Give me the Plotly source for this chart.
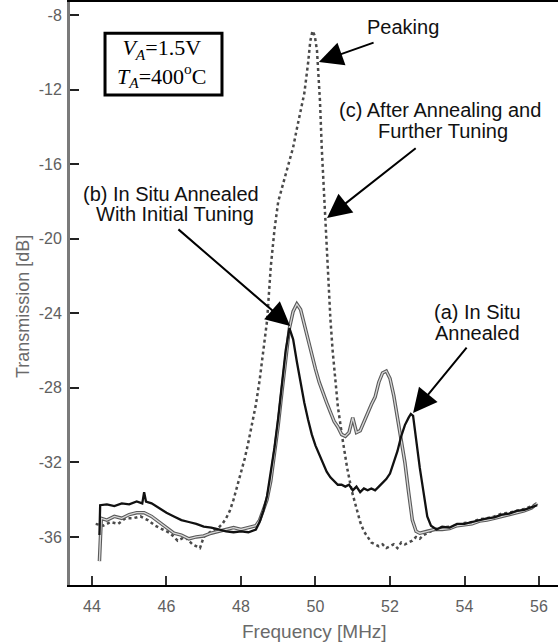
import plotly.graph_objects as go

# ---- data ----
freq_a = [44.2, 44.22, 44.4, 44.6, 44.8, 45.0, 45.2, 45.35, 45.4, 45.45, 45.6, 45.8, 46.0, 46.2, 46.4,
          46.6, 46.8, 47.0, 47.2, 47.4, 47.6, 47.8, 48.0, 48.2, 48.4, 48.5, 48.6, 48.7, 48.8, 48.9,
          49.0, 49.1, 49.2, 49.3, 49.4, 49.5, 49.6, 49.7, 49.8, 49.9, 50.0, 50.1, 50.2, 50.3, 50.4,
          50.5, 50.6, 50.7, 50.8, 50.9, 51.0, 51.1, 51.2, 51.3, 51.4, 51.5, 51.6, 51.7, 51.8, 51.9,
          52.0, 52.1, 52.2, 52.3, 52.4, 52.5, 52.56, 52.62, 52.7, 52.8, 52.9, 53.0, 53.1, 53.25,
          53.4, 53.6, 53.8, 54.0, 54.2, 54.4, 54.6, 54.8, 55.0, 55.2, 55.4, 55.6, 55.8, 55.95]
trans_a = [-35.9, -34.3, -34.25, -34.35, -34.2, -34.25, -34.1, -34.2, -33.6, -34.1, -34.2, -34.45, -34.7, -34.9, -35.1,
           -35.2, -35.3, -35.45, -35.5, -35.6, -35.7, -35.75, -35.7, -35.75, -35.6, -35.2, -34.6, -33.8, -32.6, -31.2,
           -29.6, -27.8, -26.0, -24.8, -25.4, -26.6, -27.8, -28.8, -29.7, -30.5, -31.1, -31.6, -32.1, -32.5, -32.8,
           -33.0, -33.2, -33.2, -33.3, -33.2, -33.5, -33.3, -33.6, -33.4, -33.5, -33.4, -33.5, -33.3, -33.1, -32.9,
           -32.6, -32.0, -31.4, -30.6, -30.0, -29.6, -29.4, -29.5, -30.8, -32.3, -33.6, -34.9, -35.4, -35.6,
           -35.45, -35.5, -35.3, -35.3, -35.2, -35.1, -35.0, -34.95, -34.8, -34.75, -34.6, -34.55, -34.4, -34.3]

freq_b = [44.2, 44.25, 44.4, 44.6, 44.8, 45.0, 45.2, 45.4, 45.6, 45.8, 46.0, 46.2, 46.4, 46.6, 46.8,
          47.0, 47.2, 47.4, 47.6, 47.8, 48.0, 48.2, 48.4, 48.5, 48.6, 48.7, 48.8, 48.9, 49.0, 49.1,
          49.2, 49.3, 49.4, 49.5, 49.6, 49.7, 49.8, 49.9, 50.0, 50.1, 50.2, 50.3, 50.4, 50.5, 50.6,
          50.7, 50.8, 50.9, 51.0, 51.1, 51.2, 51.3, 51.4, 51.5, 51.6, 51.7, 51.8, 51.9, 52.0, 52.1,
          52.2, 52.3, 52.4, 52.5, 52.6, 52.7, 52.8, 53.0, 53.2, 53.4, 53.6, 53.8, 54.0, 54.2, 54.4,
          54.6, 54.8, 55.0, 55.2, 55.4, 55.6, 55.8, 55.95]
trans_b = [-37.3, -35.0, -35.1, -34.9, -35.0, -34.8, -34.7, -34.7, -34.9, -35.2, -35.5, -35.8, -35.9, -36.1, -36.0,
           -35.95, -35.8, -35.7, -35.6, -35.5, -35.6, -35.5, -35.4, -35.1, -34.6, -34.0, -33.0, -31.6, -30.0, -28.2,
           -26.4, -24.8, -23.9, -23.5, -23.8, -24.6, -25.5, -26.3, -27.0, -27.7, -28.3, -28.8, -29.3, -29.8, -30.1,
           -30.5, -30.6, -30.4, -29.6, -30.4, -30.3, -29.8, -29.3, -28.9, -28.5, -27.7, -27.2, -27.1, -27.5, -28.4,
           -29.6, -30.8, -32.0, -33.6, -35.1, -35.7, -35.8, -35.7, -35.6, -35.6, -35.55, -35.4, -35.35, -35.3, -35.15,
           -35.1, -35.0, -34.9, -34.8, -34.7, -34.6, -34.45, -34.2]

freq_c = [44.1, 44.3, 44.5, 44.7, 44.9, 45.1, 45.3, 45.5, 45.7, 45.9, 46.1, 46.3, 46.5, 46.7, 46.9,
          47.0, 47.2, 47.4, 47.5, 47.6, 47.7, 47.8, 47.9, 48.0, 48.1, 48.2, 48.3, 48.4, 48.5, 48.6,
          48.7, 48.8, 48.9, 49.0, 49.1, 49.2, 49.3, 49.4, 49.5, 49.6, 49.7, 49.8, 49.86, 49.92, 49.98,
          50.04, 50.12, 50.17, 50.25, 50.33, 50.4, 50.46, 50.53, 50.6, 50.73, 50.85, 50.97, 51.1, 51.2, 51.3,
          51.4, 51.5, 51.6, 51.7, 51.8, 51.9, 52.0, 52.1, 52.2, 52.3, 52.4, 52.5, 52.6, 52.7, 52.8,
          52.9, 53.0, 53.2, 53.4, 53.6, 53.8, 54.0, 54.2, 54.4, 54.6, 54.8, 55.0, 55.2, 55.4, 55.6,
          55.8, 55.95]
trans_c = [-35.3, -35.4, -35.2, -35.3, -35.0, -35.0, -34.9, -35.1, -35.4, -35.6, -35.8, -36.2, -36.0, -36.4, -36.6,
           -36.0, -35.7, -35.5, -35.3, -35.0, -34.6, -34.0, -33.3, -32.6, -31.8, -30.9, -29.9, -28.9, -27.6, -25.9,
           -24.4, -21.5, -19.5, -18.0, -17.3, -16.5, -15.8, -15.1, -14.1, -13.2, -12.2, -10.6, -9.4, -8.85, -9.1,
           -9.9, -12.6, -15.2, -18.3, -22.0, -24.3, -26.0, -27.6, -29.0, -30.8, -32.3, -33.5, -34.5, -35.2, -35.7,
           -36.0, -36.3, -36.4, -36.5, -36.4, -36.6, -36.5, -36.4, -36.6, -36.3, -36.4, -36.3, -36.2, -36.0, -36.1,
           -35.9, -35.8, -35.6, -35.5, -35.45, -35.4, -35.25, -35.2, -35.05, -35.0, -34.9, -34.75, -34.7, -34.6, -34.5,
           -34.35, -34.2]

x_ticks = [44, 46, 48, 50, 52, 54, 56]
y_ticks = [-8, -12, -16, -20, -24, -28, -32, -36]
y_tick_text = ["-8", "-12", "-16", "-20", "-24", "-28", "-32", "-36"]

sans = "Liberation Sans, Arial, Helvetica, sans-serif"
serif = "Liberation Serif, Times New Roman, serif"

fig = go.Figure()
# (c) dotted
fig.add_trace(go.Scatter(x=freq_c, y=trans_c, mode="lines",
                         line=dict(color="#4a4a4a", width=2.5, dash="dot"), showlegend=False))
# (b) grey hollow-looking line
fig.add_trace(go.Scatter(x=freq_b, y=trans_b, mode="lines",
                         line=dict(color="#5a5a5a", width=3.5), showlegend=False))
fig.add_trace(go.Scatter(x=freq_b, y=trans_b, mode="lines",
                         line=dict(color="#d8d8d8", width=1.3), showlegend=False))
# (a) solid black
fig.add_trace(go.Scatter(x=freq_a, y=trans_a, mode="lines",
                         line=dict(color="#111111", width=2.3), showlegend=False))

annos = []
def label(text, x, y):
    annos.append(dict(text=text, x=x, y=y, xref="x", yref="y", showarrow=False,
                      font=dict(family=sans, size=20, color="#111"), xanchor="center", yanchor="middle"))

def arrow(tail_x, tail_y, tip_x, tip_y):
    annos.append(dict(text="", x=tip_x, y=tip_y, ax=tail_x, ay=tail_y, xref="x", yref="y",
                      axref="x", ayref="y", showarrow=True, arrowhead=2, arrowsize=2.4,
                      arrowwidth=2, arrowcolor="#000"))

label("Peaking", 52.35, -8.64)
label("(c) After Annealing and", 53.34, -13.10)
label("Further Tuning", 53.42, -14.22)
label("(b) In Situ Annealed", 46.12, -17.60)
label("With Initial Tuning", 46.23, -18.68)
label("(a) In Situ", 54.34, -23.93)
label("Annealed", 54.36, -25.06)

arrow(51.60, -9.45, 50.09, -10.52)
arrow(52.73, -15.08, 50.31, -18.89)
arrow(46.28, -19.43, 49.32, -24.68)
arrow(54.09, -25.76, 52.62, -29.35)

annos.append(dict(text="<i>V<sub>A</sub></i>=1.5V<br><i>T<sub>A</sub></i>=400<sup>o</sup>C",
                  x=45.87, y=-10.55, xref="x", yref="y", xanchor="center", yanchor="middle",
                  showarrow=False, font=dict(family=serif, size=22, color="#000")))

annos.append(dict(text="Transmission [dB]", x=-0.096, y=0.477, xref="paper", yref="paper",
                  xanchor="center", yanchor="middle",
                  textangle=-90, showarrow=False, font=dict(family=sans, size=18, color="#6a6a6a")))
annos.append(dict(text="Frequency [MHz]", x=0.5, y=-0.079, xref="paper", yref="paper",
                  xanchor="center", yanchor="middle",
                  showarrow=False, font=dict(family=sans, size=19, color="#6a6a6a")))

fig.update_layout(
    width=558, height=644,
    margin=dict(l=70, r=0, t=2, b=59),
    paper_bgcolor="white", plot_bgcolor="white",
    annotations=annos,
    shapes=[dict(type="rect", xref="x", yref="y", x0=44.35, x1=47.49, y0=-12.29, y1=-8.97,
                 line=dict(color="#000", width=3))],
    xaxis=dict(range=[43.41, 56.51], tickvals=x_ticks, ticks="inside", ticklen=9, tickwidth=2,
               tickcolor="#333", showline=True, linecolor="#000", linewidth=2, mirror=True,
               showgrid=False, zeroline=False, ticklabelstandoff=6,
               tickfont=dict(family=sans, size=16, color="#606060")),
    yaxis=dict(range=[-38.58, -7.30], tickvals=y_ticks, ticktext=y_tick_text, ticks="inside",
               ticklen=9, tickwidth=2,
               tickcolor="#222", showline=True, linecolor="#7a7a7a", linewidth=3,
               showgrid=False, zeroline=False, ticklabelstandoff=2,
               tickfont=dict(family=sans, size=16, color="#606060")),
)

fig.write_html("out.html")
